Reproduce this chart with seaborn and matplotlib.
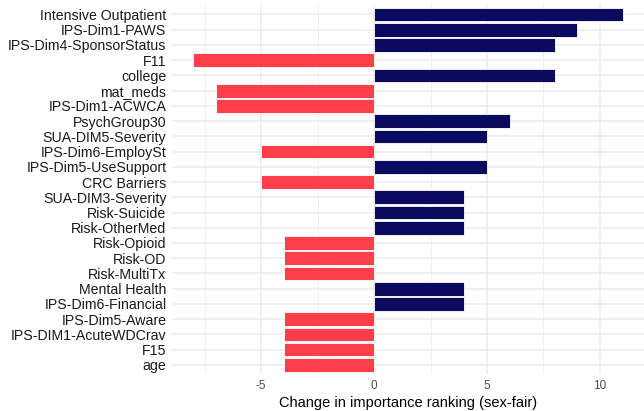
import matplotlib
matplotlib.use("Agg")
import matplotlib.pyplot as plt
import seaborn as sns
import pandas as pd
from matplotlib.ticker import MultipleLocator

# Donnees (haut -> bas)
categories = [
    "Intensive Outpatient", "IPS-Dim1-PAWS", "IPS-Dim4-SponsorStatus", "F11",
    "college", "mat_meds", "IPS-Dim1-ACWCA", "PsychGroup30",
    "SUA-DIM5-Severity", "IPS-Dim6-EmploySt", "IPS-Dim5-UseSupport", "CRC Barriers",
    "SUA-DIM3-Severity", "Risk-Suicide", "Risk-OtherMed", "Risk-Opioid",
    "Risk-OD", "Risk-MultiTx", "Mental Health", "IPS-Dim6-Financial",
    "IPS-Dim5-Aware", "IPS-DIM1-AcuteWDCrav", "F15", "age",
]
changes = [11, 9, 8, -8, 8, -7, -7, 6, 5, -5, 5, -5, 4, 4, 4, -4, -4, -4, 4, 4, -4, -4, -4, -4]
xticks = [-5, 0, 5, 10]

df = pd.DataFrame({"feature": categories, "change": changes})
df["sign"] = ["pos" if v > 0 else "neg" for v in changes]

sns.set_style("white")
plt.rcParams["font.family"] = ["Liberation Sans", "DejaVu Sans"]
plt.rcParams["axes.unicode_minus"] = False

fig = plt.figure(figsize=(6.44, 4.11), dpi=100)
ax = fig.add_axes([0.267, 0.09, 0.733, 0.897])

sns.barplot(
    data=df, x="change", y="feature", hue="sign",
    palette={"pos": "#0A0A5E", "neg": "#FF3E4B"}, saturation=1,
    order=categories, dodge=False, width=0.9,
    edgecolor="white", linewidth=0.6, legend=False, ax=ax,
)

ax.set_xlim(-8.95, 11.95)
ax.set_ylim(len(categories) - 0.4, -0.6)
ax.set_xticks(xticks)
ax.xaxis.set_minor_locator(MultipleLocator(2.5))
ax.set_axisbelow(True)
ax.grid(True, which="major", color="#EBEBEB", linewidth=1.1)
ax.grid(True, which="minor", axis="x", color="#EBEBEB", linewidth=0.55)
for s in ax.spines.values():
    s.set_visible(False)
ax.tick_params(axis="both", which="both", length=0)
ax.tick_params(axis="y", labelsize=10.2, labelcolor="#1A1A1A", pad=4)
ax.tick_params(axis="x", labelsize=8.5, labelcolor="#4D4D4D", pad=4)
ax.set_ylabel("")
ax.set_xlabel("Change in importance ranking (sex-fair)", fontsize=10.5, color="black", labelpad=3)

fig.savefig("out.png", dpi=100)
